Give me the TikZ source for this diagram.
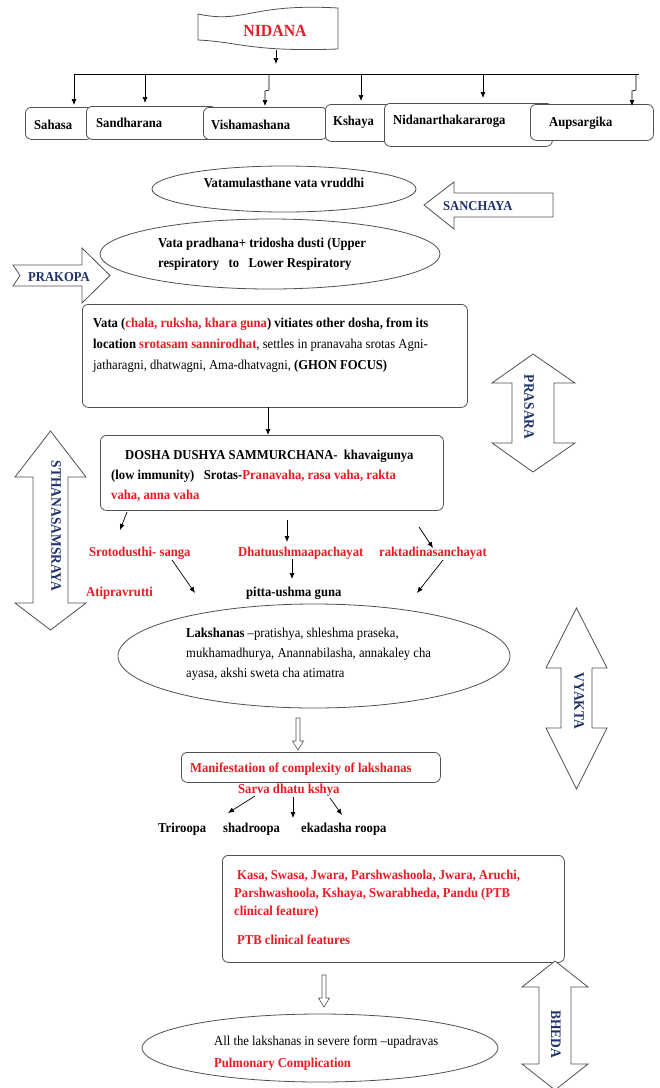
\documentclass[tikz,border=0pt]{standalone}
\usepackage{fontspec}
\setmainfont{Liberation Serif}[FakeStretch=0.93]
\usetikzlibrary{arrows.meta,shapes.geometric}
\definecolor{tred}{RGB}{232,28,36}
\definecolor{tnavy}{RGB}{31,50,105}
\definecolor{tedge}{RGB}{80,80,80}
\newcommand{\rd}[1]{\textcolor{tred}{#1}}
\newcommand{\fsz}{\fontsize{13.6}{16}\selectfont}
\begin{document}
\begin{tikzpicture}[x=1pt,y=-1pt,
 bx/.style={draw=tedge, line width=0.8pt, rounded corners=6pt, fill=white, inner sep=0pt, anchor=north west},
 el/.style={draw=tedge, line width=0.8pt, fill=white, ellipse, inner sep=0pt},
 t/.style={font=\fsz, inner sep=0pt, anchor=base west},
 tb/.style={t, font=\fsz\bfseries},
 labh/.style={font=\fsz\bfseries, text=tnavy, inner sep=0pt, anchor=base west},
 labv/.style={font=\fontsize{14.5}{16}\selectfont\bfseries, text=tnavy, inner sep=0pt, rotate=-90},
 arr/.style={-{Latex[length=6pt,width=5pt]}, line width=0.7pt, black},
 barrow/.style={draw=tedge, line width=0.8pt, fill=white, line join=miter}
]
\fill[white] (0,0) rectangle (660,1088);
\useasboundingbox (0,0) rectangle (660,1088);

% ---------- NIDANA banner ----------
\draw[barrow] (198,14) .. controls (245,24) and (250,3) .. (338,8) -- (338,49)
  .. controls (250,52) and (240,42) .. (198,40) -- cycle;
\node[font=\fontsize{17}{19}\selectfont\bfseries, text=tred, inner sep=0pt] (nidana) at (275,31) {NIDANA};
\coordinate (n1) at (276,50); \coordinate (n2) at (276,64);
\draw[arr] (n1) -- (n2);

% horizontal distribution line
\coordinate (hl) at (74,74); \coordinate (hr) at (639,74);
\draw[line width=0.8pt] (hl) -- (hr);

% ---------- cause boxes ----------
\node[bx, minimum width=67, minimum height=32] (sahasaB) at (25,107) {};
\node[bx, minimum width=130, minimum height=33] (sandhB) at (86,106) {};
\node[bx, minimum width=124, minimum height=32] (vishB) at (203,107) {};
\node[bx, minimum width=67, minimum height=37] (kshB) at (325,104) {};
\node[bx, minimum width=168, minimum height=43] (nidB) at (384,103) {};
\node[bx, minimum width=123, minimum height=36] (aupB) at (530,104) {};
\node[tb] (sahasa) at (34,129) {Sahasa};
\node[tb] (sandh) at (96,127) {Sandharana};
\node[tb] (visham) at (211,129) {Vishamashana};
\node[tb] (kshaya) at (333,125) {Kshaya};
\node[tb] (nidr) at (393,124) {Nidanarthakararoga};
\node[tb] (aups) at (549,126) {Aupsargika};

\coordinate (d1a) at (74,74);  \coordinate (d1b) at (74,105);
\coordinate (d2a) at (145,74); \coordinate (d2b) at (145,103);
\coordinate (d3a) at (269,74); \coordinate (d3b) at (265,106);
\coordinate (d4a) at (361,74); \coordinate (d4b) at (361,101);
\coordinate (d5a) at (483,74); \coordinate (d5b) at (483,98);
\coordinate (d6a) at (636,74); \coordinate (d6b) at (632,106);
\draw[arr] (d1a) -- (d1b);
\draw[arr] (d2a) -- (d2b);
\draw[arr] (d3a) -- (269,90) -- (265,91) -- (d3b);
\draw[arr] (d4a) -- (d4b);
\draw[arr] (d5a) -- (d5b);
\draw[arr] (d6a) -- (636,90) -- (632,91) -- (d6b);

% ---------- Sanchaya ----------
\node[el, minimum width=264, minimum height=46] (e1) at (284,189) {};
\node[font=\fsz\bfseries, inner sep=0pt, anchor=base] (e1t) at (284,187) {Vatamulasthane vata vruddhi};
\draw[barrow] (424,205) -- (454,182) -- (454,193) -- (553,193) -- (553,217)
  -- (454,217) -- (454,229) -- cycle;
\node[labh] (sanchaya) at (443,210) {SANCHAYA};

% ---------- Prakopa ----------
\node[el, minimum width=340, minimum height=70] (e2) at (270,254) {};
\node[tb] (e2a) at (158,247) {Vata pradhana+ tridosha dusti (Upper};
\node[tb] (e2b) at (158,267) {respiratory\ \ \ to\ \ \ Lower Respiratory};
\draw[barrow] (13,265) -- (82,265) -- (82,248) -- (110,275.5) -- (82,303)
  -- (82,286) -- (13,286) -- (20,275.5) -- cycle;
\node[labh] (prakopa) at (28,281) {PRAKOPA};

% ---------- Vata box ----------
\node[bx, minimum width=385, minimum height=103] (vata) at (82,304) {};
\node[tb] (vt1) at (93,327) {Vata (\rd{chala, ruksha, khara guna}) vitiates other dosha, from its};
\node[t] (vt2) at (93,348) {\textbf{location \rd{srotasam sannirodhat}}, settles in pranavaha srotas Agni-};
\node[t] (vt3) at (93,369) {jatharagni, dhatwagni, Ama-dhatvagni, \textbf{(GHON FOCUS)}};
\coordinate (v1) at (268,407); \coordinate (v2) at (268,435);
\draw[arr] (v1) -- (v2);

% ---------- Prasara ----------
\draw[barrow] (533,354) -- (575,383) -- (554,383) -- (554,443) -- (575,443)
  -- (533,472) -- (492,443) -- (512,443) -- (512,383) -- (492,383) -- cycle;
\node[labv] (prasara) at (529,407) {PRASARA};

% ---------- Dosha dushya box ----------
\node[bx, minimum width=343, minimum height=75] (dosha) at (100,435) {};
\node[tb] (dt1) at (125,459) {DOSHA DUSHYA SAMMURCHANA-\ \ khavaigunya};
\node[tb] (dt2) at (111,479) {(low immunity)\ \ \ Srotas-\rd{Pranavaha, rasa vaha, rakta}};
\node[tb] (dt3) at (111,499) {\rd{vaha, anna vaha}};

% ---------- Sthanasamsraya ----------
\draw[barrow] (50.5,431) -- (86,477) -- (68,477) -- (68,603) -- (86,603)
  -- (50.5,630) -- (15,603) -- (33,603) -- (33,477) -- (15,477) -- cycle;
\node[labv] (sthana) at (56,526) {STHANASAMSRAYA};

% ---------- middle labels ----------
\node[tb, text=tred] (sroto) at (89,556) {Srotodusthi- sanga};
\node[tb, text=tred] (dhatu) at (238,556) {Dhatuushmaapachayat};
\node[tb, text=tred] (rakta) at (379,556) {raktadinasanchayat};
\node[tb, text=tred] (atip) at (86,596) {Atipravrutti};
\node[tb] (pitta) at (246,596) {pitta-ushma guna};
\coordinate (m1a) at (127,512); \coordinate (m1b) at (120,530);
\coordinate (m2a) at (287,520); \coordinate (m2b) at (287,542);
\coordinate (m3a) at (419,527); \coordinate (m3b) at (433,548);
\coordinate (m4a) at (172,560); \coordinate (m4b) at (195,593);
\coordinate (m5a) at (292,559); \coordinate (m5b) at (292,579);
\coordinate (m6a) at (443,560); \coordinate (m6b) at (417,593);
\draw[arr] (m1a) -- (m1b);
\draw[arr] (m2a) -- (m2b);
\draw[arr] (m3a) -- (m3b);
\draw[arr] (m4a) -- (m4b);
\draw[arr] (m5a) -- (m5b);
\draw[arr] (m6a) -- (m6b);

% ---------- Lakshanas ----------
\node[el, minimum width=392, minimum height=104] (laksh) at (314,656) {};
\node[t] (lk1) at (186,637) {\textbf{Lakshanas} –pratishya, shleshma praseka,};
\node[t] (lk2) at (186,657) {mukhamadhurya, Anannabilasha, annakaley cha};
\node[t] (lk3) at (186,677) {ayasa, akshi sweta cha atimatra};

% ---------- Vyakta ----------
\draw[barrow] (576.5,608) -- (607,668) -- (592,668) -- (592,728) -- (607,728)
  -- (576.5,789) -- (546,728) -- (561,728) -- (561,668) -- (546,668) -- cycle;
\node[labv] (vyakta) at (579,701) {VYAKTA};

% hollow arrow
\draw[barrow, line width=0.6pt] (296,718) -- (300,718) -- (300,741) -- (303.5,741) -- (298,750)
  -- (292.5,741) -- (296,741) -- cycle;

% ---------- Manifestation ----------
\node[bx, minimum width=259, minimum height=30] (manif) at (181,752) {};
\node[tb, text=tred] (mt) at (190,772) {Manifestation of complexity of lakshanas};
\node[tb, text=tred] (sarva) at (238,793) {Sarva dhatu kshya};
\coordinate (s1a) at (255,796); \coordinate (s1b) at (228,813);
\coordinate (s2a) at (293,797); \coordinate (s2b) at (293,818);
\coordinate (s3a) at (330,798); \coordinate (s3b) at (342,815);
\draw[arr] (s1a) -- (s1b);
\draw[arr] (s2a) -- (s2b);
\draw[arr] (s3a) -- (s3b);
\node[tb] (tri) at (158,832) {Triroopa};
\node[tb] (shad) at (223,832) {shadroopa};
\node[tb] (ekad) at (301,832) {ekadasha roopa};

% ---------- Kasa box ----------
\node[bx, minimum width=342, minimum height=107] (kasa) at (222,855) {};
\node[tb, text=tred] (ks1) at (237,879) {Kasa, Swasa, Jwara, Parshwashoola, Jwara, Aruchi,};
\node[tb, text=tred] (ks2) at (234,897) {Parshwashoola, Kshaya, Swarabheda, Pandu (PTB};
\node[tb, text=tred] (ks3) at (234,915) {clinical feature)};
\node[tb, text=tred] (ks4) at (237,944) {PTB clinical features};

% hollow arrow 2
\draw[barrow, line width=0.6pt] (322,975) -- (326,975) -- (326,998) -- (329.5,998) -- (324,1007)
  -- (318.5,998) -- (322,998) -- cycle;

% ---------- Bheda ----------
\draw[barrow] (555,961) -- (588,987) -- (571,987) -- (571,1064) -- (588,1064)
  -- (555,1090) -- (522,1064) -- (539,1064) -- (539,987) -- (522,987) -- cycle;
\node[labv] (bheda) at (556,1034) {BHEDA};

% ---------- bottom ellipse ----------
\node[el, minimum width=356, minimum height=68] (last) at (320,1048) {};
\node[t] (la1) at (214,1045) {All the lakshanas in severe form –upadravas};
\node[tb, text=tred] (la2) at (214,1067) {Pulmonary Complication};
\end{tikzpicture}
\end{document}
